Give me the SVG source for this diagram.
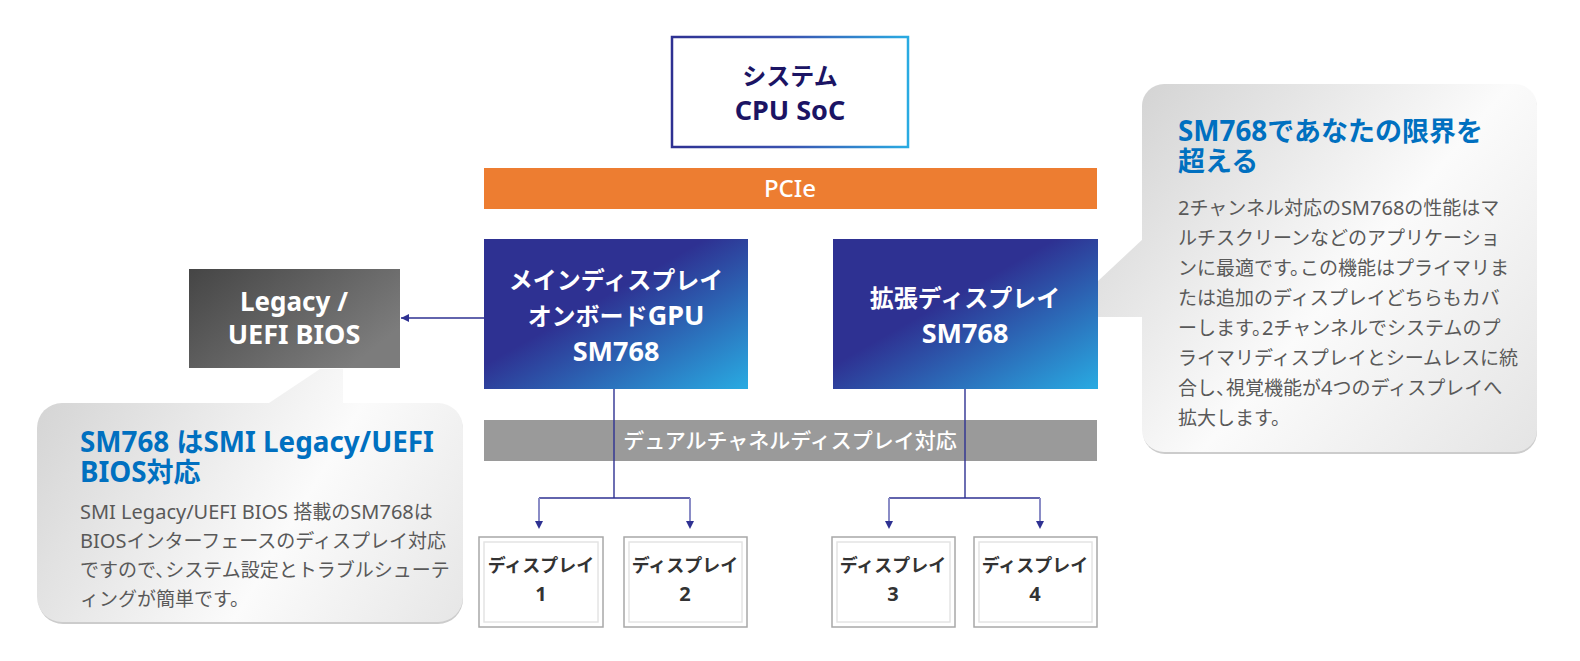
<svg xmlns="http://www.w3.org/2000/svg" width="1580" height="661" viewBox="0 0 1580 661">
<defs>
  <linearGradient id="gBlue" x1="0" y1="0" x2="1" y2="1">
    <stop offset="0" stop-color="#2e3192"/>
    <stop offset="0.42" stop-color="#2e3192"/>
    <stop offset="1" stop-color="#29abe2"/>
  </linearGradient>
  <linearGradient id="gCpu" x1="0" y1="0" x2="1" y2="0">
    <stop offset="0" stop-color="#2e3192"/>
    <stop offset="0.5" stop-color="#3a52b0"/>
    <stop offset="1" stop-color="#29abe2"/>
  </linearGradient>
  <linearGradient id="gGray" x1="0" y1="0" x2="1" y2="0.6">
    <stop offset="0" stop-color="#454545"/>
    <stop offset="1" stop-color="#7c7c7c"/>
  </linearGradient>
  <linearGradient id="gCallR" gradientUnits="userSpaceOnUse" x1="1098" y1="84" x2="1537" y2="453">
    <stop offset="0" stop-color="#cfcfcf"/>
    <stop offset="0.55" stop-color="#fbfbfb"/>
    <stop offset="1" stop-color="#e4e4e4"/>
  </linearGradient>
  <linearGradient id="gCallL" gradientUnits="userSpaceOnUse" x1="37" y1="369" x2="463" y2="623">
    <stop offset="0" stop-color="#d2d2d2"/>
    <stop offset="0.6" stop-color="#fbfbfb"/>
    <stop offset="1" stop-color="#e6e6e6"/>
  </linearGradient>
  <marker id="arr" viewBox="0 0 10 10" refX="10" refY="5" markerWidth="8" markerHeight="8" markerUnits="userSpaceOnUse" orient="auto">
    <path d="M0,0 L10,5 L0,10 Z" fill="#2e3192"/>
  </marker>
  <style>
    text { font-family: "Noto Sans", "Noto Sans CJK JP", sans-serif; }
    .wb { fill: #ffffff; font-weight: 700; font-size: 24px; text-anchor: middle; }
    .bar { fill: #ffffff; font-weight: 500; font-size: 21px; text-anchor: middle; }
    .cpu { fill: #1b1464; font-weight: 700; font-size: 24px; text-anchor: middle; }
    .disp { fill: #333333; font-weight: 700; font-size: 18px; text-anchor: middle; }
    .ttl { fill: #0070c0; font-weight: 700; font-size: 27px; }
    .body { fill: #595959; font-weight: 400; font-size: 19px; }
    .L27 { font-size: 27px; }
    .Lt { font-size: 27.8px; }
    .Lb { font-size: 20px; }
    .outer { fill: #ffffff; stroke: #a8a8a8; stroke-width: 1.5; }
    .inner { fill: none; stroke: #e4e4e4; stroke-width: 1.5; }
    .ln { stroke: #2e3192; stroke-width: 1.4; fill: none; }
    .drop { stroke: #8a8cc6; stroke-width: 2; fill: none; }
  </style>
</defs>
<rect width="1580" height="661" fill="#ffffff"/>

<g id="callout-right">
  <rect x="1143" y="86" width="394" height="368" rx="22" fill="#cccccc"/>
  <rect x="1142" y="84" width="395" height="368" rx="22" fill="url(#gCallR)"/>
  <polygon points="1144,238 1098,281 1098,317 1144,317" fill="url(#gCallR)"/>
  <text class="ttl" x="1178" y="141"><tspan class="Lt">SM768</tspan>であなたの限界を</text>
  <text class="ttl" x="1178" y="171">超える</text>
  <text class="body" x="1178" y="215"><tspan class="Lb">2</tspan>チャンネル対応の<tspan class="Lb">SM768</tspan>の性能はマ</text>
  <text class="body" x="1178" y="245">ルチスクリーンなどのアプリケーショ</text>
  <text class="body" x="1178" y="275">ンに最適です。<tspan dx="-9">この機能はプライマリま</tspan></text>
  <text class="body" x="1178" y="305">たは追加のディスプレイどちらもカバ</text>
  <text class="body" x="1178" y="335">ーします。<tspan dx="-9" class="Lb">2</tspan>チャンネルでシステムのプ</text>
  <text class="body" x="1178" y="365">ライマリディスプレイとシームレスに統</text>
  <text class="body" x="1178" y="395">合し、<tspan dx="-9">視覚機能が</tspan><tspan class="Lb">4</tspan>つのディスプレイへ</text>
  <text class="body" x="1178" y="425">拡大します。</text>
</g>

<g id="callout-left">
  <rect x="38" y="405" width="425" height="219" rx="25" fill="#cccccc"/>
  <rect x="37" y="403" width="426" height="219" rx="25" fill="url(#gCallL)"/>
  <polygon points="266,405 320,369 343,369 343,405" fill="url(#gCallL)"/>
  <text class="ttl" x="80" y="452"><tspan class="Lt">SM768 </tspan>は<tspan class="Lt">SMI Legacy/UEFI</tspan></text>
  <text class="ttl" x="80" y="482"><tspan class="Lt">BIOS</tspan>対応</text>
  <text class="body" x="80" y="519"><tspan class="Lb">SMI Legacy/UEFI BIOS </tspan>搭載の<tspan class="Lb">SM768</tspan>は</text>
  <text class="body" x="80" y="548"><tspan class="Lb">BIOS</tspan>インターフェースのディスプレイ対応</text>
  <text class="body" x="80" y="577">ですので、<tspan dx="-9">システム設定とトラブルシューテ</tspan></text>
  <text class="body" x="80" y="606">ィングが簡単です。</text>
</g>

<g id="cpu">
  <rect x="672" y="37" width="236" height="110" fill="#ffffff" stroke="url(#gCpu)" stroke-width="2.5"/>
  <text class="cpu" x="790" y="85">システム</text>
  <text class="cpu L27" x="790" y="120">CPU SoC</text>
</g>

<g id="pcie">
  <rect x="484" y="168" width="613" height="41" fill="#ed7d31"/>
  <text class="bar" x="790" y="197" style="font-size:24px">PCIe</text>
</g>

<g id="gpu-main">
  <rect x="484" y="239" width="264" height="150" fill="url(#gBlue)"/>
  <text class="wb" x="616" y="289">メインディスプレイ</text>
  <text class="wb" x="616" y="325">オンボード<tspan class="L27">GPU</tspan></text>
  <text class="wb L27" x="616" y="361">SM768</text>
</g>

<g id="gpu-ext">
  <rect x="833" y="239" width="265" height="150" fill="url(#gBlue)"/>
  <text class="wb" x="965" y="307">拡張ディスプレイ</text>
  <text class="wb L27" x="965" y="343">SM768</text>
</g>

<g id="bios">
  <rect x="189" y="269" width="211" height="99" fill="url(#gGray)"/>
  <text class="wb" x="294" y="311" style="font-size:26px">Legacy /</text>
  <text class="wb L27" x="294" y="344">UEFI BIOS</text>
</g>

<g id="dual">
  <rect x="484" y="420" width="613" height="41" fill="#9a9a9a"/>
  <text class="bar" x="790" y="448">デュアルチャネルディスプレイ対応</text>
</g>

<g id="connectors">
  <line class="ln" x1="484" y1="318" x2="401" y2="318" marker-end="url(#arr)"/>
  <polyline class="ln" points="614,389 614,498"/>
  <polyline class="ln" points="539,498 690,498"/>
  <line class="drop" x1="539" y1="498" x2="539" y2="521"/>
  <line class="drop" x1="690" y1="498" x2="690" y2="521"/>
  <line class="ln" x1="539" y1="519" x2="539" y2="529" marker-end="url(#arr)" stroke-opacity="0"/>
  <line class="ln" x1="690" y1="519" x2="690" y2="529" marker-end="url(#arr)" stroke-opacity="0"/>
  <polyline class="ln" points="965,389 965,498"/>
  <polyline class="ln" points="889,498 1040,498"/>
  <line class="drop" x1="889" y1="498" x2="889" y2="521"/>
  <line class="drop" x1="1040" y1="498" x2="1040" y2="521"/>
  <line class="ln" x1="889" y1="519" x2="889" y2="529" marker-end="url(#arr)" stroke-opacity="0"/>
  <line class="ln" x1="1040" y1="519" x2="1040" y2="529" marker-end="url(#arr)" stroke-opacity="0"/>
</g>

<g id="display1">
  <rect class="outer" x="479" y="537" width="124" height="90"/>
  <rect class="inner" x="484" y="542" width="114" height="80"/>
  <text class="disp" x="541" y="572">ディスプレイ</text>
  <text class="disp" x="541" y="601" style="font-size:20px">1</text>
</g>
<g id="display2">
  <rect class="outer" x="624" y="537" width="123" height="90"/>
  <rect class="inner" x="629" y="542" width="113" height="80"/>
  <text class="disp" x="685" y="572">ディスプレイ</text>
  <text class="disp" x="685" y="601" style="font-size:20px">2</text>
</g>
<g id="display3">
  <rect class="outer" x="832" y="537" width="123" height="90"/>
  <rect class="inner" x="837" y="542" width="113" height="80"/>
  <text class="disp" x="893" y="572">ディスプレイ</text>
  <text class="disp" x="893" y="601" style="font-size:20px">3</text>
</g>
<g id="display4">
  <rect class="outer" x="974" y="537" width="123" height="90"/>
  <rect class="inner" x="979" y="542" width="113" height="80"/>
  <text class="disp" x="1035" y="572">ディスプレイ</text>
  <text class="disp" x="1035" y="601" style="font-size:20px">4</text>
</g>
</svg>
